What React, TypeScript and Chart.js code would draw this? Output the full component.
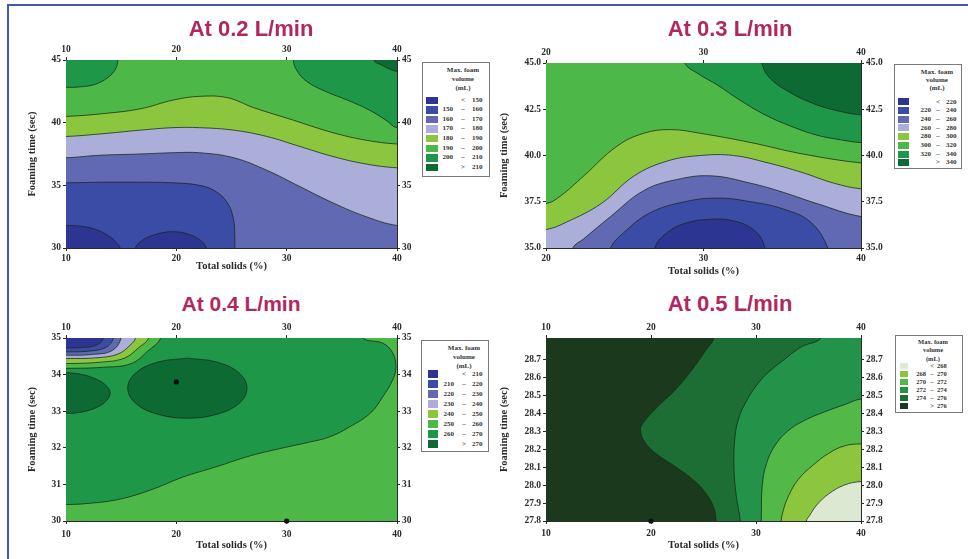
import React, { useEffect, useRef } from "react";
import { Chart, registerables } from "chart.js";

Chart.register(...registerables);

type Pt = [number, number];
type Corner = "tl" | "tr" | "bl" | "br";

// Contour palettes, lowest band first
const BLUE_GREEN = ["#2c3591", "#3b4ca6", "#6169b3", "#aaaed9", "#8cc63f", "#4db848", "#1e9748", "#0e6a33"];
const GREENS_05 = ["#dde8d3", "#8cc63f", "#52b848", "#24934a", "#1c6e35", "#1b3a1d"];

const TITLE_TEXTS = ["At 0.2 L/min", "At 0.3 L/min", "At 0.4 L/min", "At 0.5 L/min"];
const X_TITLE = "Total solids (%)";
const Y_TITLE = "Foaming time (sec)";
const LEGEND_HEAD = ["Max. foam", "volume", "(mL)"];

// ---------- At 0.2 L/min ----------
const P1_X_TICKS = [10, 20, 30, 40];
const P1_Y_TICKS = [30, 35, 40, 45];
const P1_LEGEND = ["< 150", "150 – 160", "160 – 170", "170 – 180", "180 – 190", "190 – 200", "200 – 210", "> 210"];
const P1_C150_LEFT: Pt[] = [[10, 31.8], [11.5, 31.72], [12.8, 31.45], [13.9, 30.95], [14.6, 30.4], [14.9, 30]];
const P1_C150_MID: Pt[] = [[16.3, 30], [16.9, 30.6], [18.0, 31.05], [19.6, 31.3], [21.1, 31.1], [22.2, 30.6], [22.7, 30]];
const P1_C160: Pt[] = [[10, 35.2], [13.1, 35.25], [16.7, 35.25], [19.7, 35.2], [22.1, 35.0], [23.6, 34.5], [24.7, 33.5], [25.2, 32.2], [25.3, 31.0], [25.3, 30]];
const P1_C170: Pt[] = [[10, 37.2], [13.1, 37.4], [16.7, 37.5], [19.7, 37.6], [22.1, 37.6], [25.2, 37.2], [28.2, 36.2], [31.2, 34.9], [34.2, 33.6], [37.2, 32.5], [40, 31.8]];
const P1_C180: Pt[] = [[10, 38.9], [13.1, 39.1], [16.7, 39.4], [19.7, 39.6], [22.1, 39.6], [25.2, 39.4], [28.2, 38.9], [31.2, 38.1], [34.2, 37.3], [37.2, 36.7], [40, 36.4]];
const P1_C190: Pt[] = [[10, 40.5], [13.1, 40.7], [16.7, 41.1], [19.7, 41.8], [22.1, 42.1], [24.6, 42.0], [27.0, 41.2], [30.6, 40.2], [34.2, 39.2], [37.2, 38.6], [40, 38.3]];
const P1_C200_LEFT: Pt[] = [[14.7, 45], [14.5, 44.3], [13.8, 43.6], [12.6, 43.05], [11.2, 42.85], [10, 42.82]];
const P1_C200_RIGHT: Pt[] = [[30.6, 45], [30.9, 44.2], [31.8, 43.3], [33.5, 42.5], [35.5, 41.8], [37.5, 41.0], [39, 40.2], [40, 39.6]];
const P1_C210: Pt[] = [[37.9, 45], [38.6, 44.6], [39.4, 44.25], [40, 44.1]];
const P1_MARKERS: Pt[] = [];

// ---------- At 0.3 L/min ----------
const P2_X_TICKS = [20, 30, 40];
const P2_Y_TICKS = [35, 37.5, 40, 42.5, 45];
const P2_LEGEND = ["< 220", "220 – 240", "240 – 260", "260 – 280", "280 – 300", "300 – 320", "320 – 340", "> 340"];
const P2_C220: Pt[] = [[26.9, 35], [27.5, 35.7], [28.7, 36.3], [30.4, 36.55], [32.0, 36.45], [33.3, 35.9], [33.9, 35]];
const P2_C240: Pt[] = [[24.1, 35], [24.9, 35.8], [26.6, 36.9], [28.8, 37.5], [30.9, 37.7], [33.0, 37.5], [35.1, 37.1], [36.8, 36.4], [37.9, 35]];
const P2_C260: Pt[] = [[21.7, 35], [22.4, 35.5], [24.1, 36.7], [26.2, 38.1], [28.3, 38.7], [30.5, 38.9], [33.0, 38.5], [35.1, 38.0], [37.2, 37.4], [40, 36.7]];
const P2_C280: Pt[] = [[20, 36.0], [21.3, 36.4], [23.5, 37.4], [25.6, 38.9], [27.7, 39.7], [29.8, 40.0], [31.9, 40.0], [34.1, 39.6], [36.2, 39.1], [38.3, 38.5], [40, 38.2]];
const P2_C300: Pt[] = [[20, 37.4], [20.9, 37.8], [22.4, 38.9], [24.5, 40.5], [26.2, 41.2], [27.9, 41.4], [29.8, 41.2], [33.0, 40.7], [36.2, 40.1], [40, 39.6]];
const P2_C320: Pt[] = [[28.8, 45], [29.7, 44.4], [30.9, 43.8], [32.3, 43.0], [33.9, 42.2], [35.5, 41.6], [37.2, 41.1], [38.7, 40.85], [40, 40.7]];
const P2_C340: Pt[] = [[33.7, 45], [34.2, 44.2], [35.3, 43.5], [37.0, 42.8], [38.6, 42.4], [40, 42.2]];
const P2_MARKERS: Pt[] = [];

// ---------- At 0.4 L/min ----------
const P3_X_TICKS = [10, 20, 30, 40];
const P3_Y_TICKS = [30, 31, 32, 33, 34, 35];
const P3_LEGEND = ["< 210", "210 – 220", "220 – 230", "230 – 240", "240 – 250", "250 – 260", "260 – 270", "> 270"];
const P3_C210: Pt[] = [[10, 34.73], [11.5, 34.74], [12.7, 34.8], [13.4, 35]];
const P3_C220: Pt[] = [[10, 34.62], [12.0, 34.64], [13.6, 34.74], [14.3, 35]];
const P3_C230: Pt[] = [[10, 34.53], [12.4, 34.55], [14.2, 34.66], [15.0, 35]];
const P3_C240: Pt[] = [[10, 34.44], [12.8, 34.46], [14.7, 34.56], [15.8, 34.8], [16.3, 35]];
const P3_C250: Pt[] = [[10, 34.3], [13.1, 34.34], [15.3, 34.45], [16.6, 34.74], [17.5, 35]];
const P3_C260_UPPER: Pt[] = [[10, 34.17], [13.4, 34.2], [15.9, 34.3], [17.4, 34.64], [18.6, 35]];
const P3_C260_LOWER: Pt[] = [[36.9, 35], [38.7, 34.86], [39.6, 34.6], [39.9, 34.2], [39.6, 33.85], [38.7, 33.39], [37.6, 32.95], [35.7, 32.57], [33.9, 32.3], [32.0, 32.15], [29.7, 32.0], [26.7, 31.78], [23.6, 31.48], [20.6, 31.2], [17.6, 30.84], [14.6, 30.58], [11.6, 30.47], [10, 30.45]];
const P3_C270_LEFT: Pt[] = [[10, 34.05], [11.5, 34.0], [12.9, 33.85], [13.7, 33.68], [14.0, 33.5], [13.7, 33.3], [12.9, 33.12], [11.5, 32.98], [10, 32.94]];
const P3_C270_MID: Pt[] = [[21.0, 34.45], [23.7, 34.34], [25.7, 34.04], [26.4, 33.63], [25.7, 33.22], [23.7, 32.92], [21.0, 32.81], [18.3, 32.92], [16.3, 33.22], [15.6, 33.63], [16.3, 34.04], [18.3, 34.34]];
const P3_MARKERS: Pt[] = [[20, 33.8], [30, 30]];

// ---------- At 0.5 L/min ----------
const P4_X_TICKS = [10, 20, 30, 40];
const P4_Y_TICKS = [27.8, 27.9, 28.0, 28.1, 28.2, 28.3, 28.4, 28.5, 28.6, 28.7];
const P4_LEGEND = ["< 268", "268 – 270", "270 – 272", "272 – 274", "274 – 276", "> 276"];
const P4_C268: Pt[] = [[40, 28.02], [38.4, 28.0], [36.9, 27.95], [35.8, 27.89], [35.1, 27.83], [34.8, 27.8]];
const P4_C270: Pt[] = [[40, 28.23], [38.5, 28.22], [37.0, 28.18], [35.4, 28.11], [34.0, 28.03], [33.1, 27.94], [32.6, 27.86], [32.4, 27.8]];
const P4_C272: Pt[] = [[40, 28.48], [38.5, 28.45], [36.6, 28.41], [34.6, 28.36], [33.0, 28.3], [31.8, 28.22], [31.0, 28.12], [30.6, 28.0], [30.5, 27.8]];
const P4_C274: Pt[] = [[36.2, 28.82], [34.3, 28.77], [32.7, 28.7], [31.2, 28.63], [30.1, 28.56], [29.1, 28.47], [28.4, 28.38], [28.0, 28.27], [27.9, 28.1], [28.1, 27.95], [28.5, 27.8]];
const P4_C276: Pt[] = [[26.0, 28.82], [25.2, 28.75], [24.0, 28.65], [22.3, 28.53], [20.5, 28.43], [19.3, 28.35], [19.0, 28.31], [19.4, 28.24], [20.6, 28.17], [22.4, 28.1], [24.2, 28.02], [25.4, 27.94], [26.0, 27.87], [26.2, 27.8]];
const P4_MARKERS: Pt[] = [[20, 27.8]];

const INK = "#2a2a2a";
const CONTOUR_LINE = "rgba(22,40,22,0.85)";
const TITLE_COLOR = "#b2275e";
const SERIF = '"Liberation Serif", "Times New Roman", serif';

interface Layer { curves: Pt[][]; corners: Corner[]; color: string }
interface Bounds { xMin: number; xMax: number; yMin: number; yMax: number }
interface LegendSpec {
  left: number; top: number; width: number; height: number;
  headTop: number; headStep: number; rowTop: number; rowStep: number;
  swatchLeft: number; swatchW: number; swatchH: number;
  c1: number; c2: number; c3: number; font: number; headCenter: number;
  labels: string[]; colors: string[];
}
interface PanelSpec {
  title: string; titleX: number; titleY: number; titleSize: number;
  left: number; top: number; width: number; height: number;
  axL: number; axR: number; axT: number; axB: number; xPad: number;
  bounds: Bounds; xTicks: number[]; yTicks: number[]; yDec: number;
  base: string; layers: Layer[]; markers: Pt[]; legend: LegendSpec;
}

// Closes a contour against the outside of the plot so it can be filled as a shape.
function buildPolygon(curves: Pt[][], corners: Corner[], b: Bounds) {
  const dx = (b.xMax - b.xMin) * 0.08;
  const dy = (b.yMax - b.yMin) * 0.08;
  const outward = ([x, y]: Pt): Pt | null => {
    if (x === b.xMin) return [x - dx, y];
    if (x === b.xMax) return [x + dx, y];
    if (y === b.yMin) return [x, y - dy];
    if (y === b.yMax) return [x, y + dy];
    return null;
  };
  const cornerPt: Record<Corner, Pt> = {
    tl: [b.xMin - dx, b.yMax + dy],
    tr: [b.xMax + dx, b.yMax + dy],
    bl: [b.xMin - dx, b.yMin - dy],
    br: [b.xMax + dx, b.yMin - dy],
  };
  const out: Pt[] = [];
  for (const c of curves) {
    const s = outward(c[0]);
    if (s) out.push(s);
    out.push(...c);
    const e = outward(c[c.length - 1]);
    if (e) out.push(e);
  }
  corners.forEach((k) => out.push(cornerPt[k]));
  const first = out[0];
  const last = out[out.length - 1];
  if (first[0] !== last[0] || first[1] !== last[1]) out.push(first);
  return out.map(([x, y]) => ({ x, y }));
}

const B1: Bounds = { xMin: 10, xMax: 40, yMin: 30, yMax: 45 };
const B2: Bounds = { xMin: 20, xMax: 40, yMin: 35, yMax: 45 };
const B3: Bounds = { xMin: 10, xMax: 40, yMin: 30, yMax: 35 };
const B4: Bounds = { xMin: 10, xMax: 40, yMin: 27.8, yMax: 28.82 };

const PANELS: PanelSpec[] = [
  {
    title: TITLE_TEXTS[0], titleX: 251, titleY: 29, titleSize: 22,
    left: 26, top: 40, width: 395, height: 233, axL: 40, axR: 24, axT: 20, axB: 25, xPad: 2,
    bounds: B1, xTicks: P1_X_TICKS, yTicks: P1_Y_TICKS, yDec: 0, base: BLUE_GREEN[5],
    layers: [
      { curves: [P1_C200_LEFT], corners: ["tl"], color: BLUE_GREEN[6] },
      { curves: [P1_C200_RIGHT], corners: ["tr"], color: BLUE_GREEN[6] },
      { curves: [P1_C210], corners: ["tr"], color: BLUE_GREEN[7] },
      { curves: [P1_C190], corners: ["br", "bl"], color: BLUE_GREEN[4] },
      { curves: [P1_C180], corners: ["br", "bl"], color: BLUE_GREEN[3] },
      { curves: [P1_C170], corners: ["br", "bl"], color: BLUE_GREEN[2] },
      { curves: [P1_C160], corners: ["bl"], color: BLUE_GREEN[1] },
      { curves: [P1_C150_LEFT], corners: ["bl"], color: BLUE_GREEN[0] },
      { curves: [P1_C150_MID], corners: [], color: BLUE_GREEN[0] },
    ],
    markers: P1_MARKERS,
    legend: {
      left: 422, top: 62, width: 68, height: 115, headTop: 65, headStep: 8.8, rowTop: 94.5, rowStep: 9.6,
      swatchLeft: 3, swatchW: 12, swatchH: 7.5, c1: 30, c2: 40, c3: 49, font: 7, headCenter: 40,
      labels: P1_LEGEND, colors: BLUE_GREEN,
    },
  },
  {
    title: TITLE_TEXTS[1], titleX: 730, titleY: 29, titleSize: 22,
    left: 498, top: 43, width: 393, height: 235, axL: 48, axR: 30, axT: 20, axB: 30, xPad: 2,
    bounds: B2, xTicks: P2_X_TICKS, yTicks: P2_Y_TICKS, yDec: 1, base: BLUE_GREEN[5],
    layers: [
      { curves: [P2_C320], corners: ["tr"], color: BLUE_GREEN[6] },
      { curves: [P2_C340], corners: ["tr"], color: BLUE_GREEN[7] },
      { curves: [P2_C300], corners: ["br", "bl"], color: BLUE_GREEN[4] },
      { curves: [P2_C280], corners: ["br", "bl"], color: BLUE_GREEN[3] },
      { curves: [P2_C260], corners: ["br"], color: BLUE_GREEN[2] },
      { curves: [P2_C240], corners: [], color: BLUE_GREEN[1] },
      { curves: [P2_C220], corners: [], color: BLUE_GREEN[0] },
    ],
    markers: P2_MARKERS,
    legend: {
      left: 894, top: 64, width: 68, height: 105, headTop: 67, headStep: 8.2, rowTop: 96.5, rowStep: 8.7,
      swatchLeft: 3, swatchW: 11, swatchH: 7, c1: 36, c2: 43, c3: 51, font: 7, headCenter: 42,
      labels: P2_LEGEND, colors: BLUE_GREEN,
    },
  },
  {
    title: TITLE_TEXTS[2], titleX: 241, titleY: 303, titleSize: 21,
    left: 26, top: 318, width: 395, height: 234, axL: 40, axR: 24, axT: 20, axB: 31, xPad: 5,
    bounds: B3, xTicks: P3_X_TICKS, yTicks: P3_Y_TICKS, yDec: 0, base: BLUE_GREEN[5],
    layers: [
      { curves: [P3_C260_UPPER, P3_C260_LOWER], corners: [], color: BLUE_GREEN[6] },
      { curves: [P3_C250], corners: ["tl"], color: BLUE_GREEN[4] },
      { curves: [P3_C240], corners: ["tl"], color: BLUE_GREEN[3] },
      { curves: [P3_C230], corners: ["tl"], color: BLUE_GREEN[2] },
      { curves: [P3_C220], corners: ["tl"], color: BLUE_GREEN[1] },
      { curves: [P3_C210], corners: ["tl"], color: BLUE_GREEN[0] },
      { curves: [P3_C270_LEFT], corners: [], color: BLUE_GREEN[7] },
      { curves: [P3_C270_MID], corners: [], color: BLUE_GREEN[7] },
    ],
    markers: P3_MARKERS,
    legend: {
      left: 421, top: 340, width: 68, height: 112, headTop: 343, headStep: 8.8, rowTop: 368, rowStep: 10,
      swatchLeft: 6, swatchW: 10, swatchH: 8, c1: 32, c2: 42, c3: 50, font: 7, headCenter: 42,
      labels: P3_LEGEND, colors: BLUE_GREEN,
    },
  },
  {
    title: TITLE_TEXTS[3], titleX: 730, titleY: 304, titleSize: 22,
    left: 498, top: 318, width: 393, height: 234, axL: 48, axR: 30, axT: 20, axB: 31, xPad: 4,
    bounds: B4, xTicks: P4_X_TICKS, yTicks: P4_Y_TICKS, yDec: 1, base: GREENS_05[5],
    layers: [
      { curves: [P4_C276], corners: ["br", "tr"], color: GREENS_05[4] },
      { curves: [P4_C274], corners: ["br", "tr"], color: GREENS_05[3] },
      { curves: [P4_C272], corners: ["br"], color: GREENS_05[2] },
      { curves: [P4_C270], corners: ["br"], color: GREENS_05[1] },
      { curves: [P4_C268], corners: ["br"], color: GREENS_05[0] },
    ],
    markers: P4_MARKERS,
    legend: {
      left: 895, top: 335, width: 68, height: 78, headTop: 337, headStep: 8.4, rowTop: 361, rowStep: 8,
      swatchLeft: 4, swatchW: 8, swatchH: 6.5, c1: 30, c2: 36, c3: 41, font: 6.5, headCenter: 37,
      labels: P4_LEGEND, colors: GREENS_05,
    },
  },
];

function axisOptions(pos: "top" | "bottom" | "left" | "right", spec: PanelSpec) {
  const horizontal = pos === "top" || pos === "bottom";
  const b = spec.bounds;
  const ticks = horizontal ? spec.xTicks : spec.yTicks;
  const dec = horizontal ? 0 : spec.yDec;
  const size = pos === "top" ? spec.axT : pos === "bottom" ? spec.axB : pos === "left" ? spec.axL : spec.axR;
  const title = pos === "bottom" ? X_TITLE : pos === "left" ? Y_TITLE : "";
  return {
    type: "linear" as const,
    position: pos,
    min: horizontal ? b.xMin : b.yMin,
    max: horizontal ? b.xMax : b.yMax,
    afterBuildTicks: (a: any) => {
      a.ticks = ticks.map((v) => ({ value: v }));
    },
    afterFit: (s: any) => {
      if (horizontal) s.height = size;
      else s.width = size;
    },
    grid: { display: true, drawOnChartArea: false, drawTicks: true, tickLength: 3, color: INK, lineWidth: 1 },
    border: { display: true, color: INK, width: 1 },
    ticks: {
      font: { family: SERIF, size: 9.5, weight: "bold" as const },
      color: INK,
      padding: pos === "bottom" ? spec.xPad : 2,
      maxRotation: 0,
      autoSkip: false,
      callback: (v: any) => Number(v).toFixed(dec),
    },
    title: title
      ? { display: true, text: title, font: { family: SERIF, size: 10.5, weight: "bold" as const }, color: INK, padding: 0 }
      : { display: false },
  };
}

function ContourPanel({ spec }: { spec: PanelSpec }) {
  const ref = useRef<HTMLCanvasElement>(null);

  useEffect(() => {
    if (!ref.current) return;
    const b = spec.bounds;
    const datasets: any[] = [];
    datasets.push({
      data: buildPolygon([], ["tl", "tr", "br", "bl"], b),
      fill: "shape",
      backgroundColor: spec.base,
      borderWidth: 0,
      borderColor: "rgba(0,0,0,0)",
      pointRadius: 0,
      tension: 0,
    });
    spec.layers.forEach((layer) => {
      datasets.push({
        data: buildPolygon(layer.curves, layer.corners, b),
        fill: "shape",
        backgroundColor: layer.color,
        borderColor: CONTOUR_LINE,
        borderWidth: 0.9,
        pointRadius: 0,
        tension: 0.4,
      });
    });
    datasets.forEach((d, i) => (d.order = -i));
    datasets.push({
      data: spec.markers.map(([x, y]) => ({ x, y })),
      showLine: false,
      fill: false,
      pointRadius: 2.6,
      pointBackgroundColor: "#111",
      pointBorderWidth: 0,
      clip: false,
      order: -1000,
    });

    const chart = new Chart(ref.current, {
      type: "line",
      data: { datasets },
      options: {
        responsive: false,
        animation: false,
        devicePixelRatio: 1,
        events: [],
        layout: { padding: 0 },
        elements: { line: { capBezierPoints: false } },
        plugins: { legend: { display: false }, tooltip: { enabled: false }, title: { display: false } },
        scales: {
          x: axisOptions("bottom", spec),
          xTop: axisOptions("top", spec),
          y: axisOptions("left", spec),
          yRight: axisOptions("right", spec),
        } as any,
      },
    });
    return () => chart.destroy();
  }, [spec]);

  const L = spec.legend;
  return (
    <>
      <canvas
        ref={ref}
        width={spec.width}
        height={spec.height}
        style={{ position: "absolute", left: spec.left, top: spec.top, width: spec.width, height: spec.height }}
      />
      <div
        style={{
          position: "absolute",
          left: spec.titleX - 110,
          width: 220,
          top: spec.titleY - spec.titleSize * 0.49,
          textAlign: "center",
          fontFamily: '"Liberation Sans", Arial, sans-serif',
          fontWeight: "bold",
          fontSize: spec.titleSize,
          lineHeight: `${spec.titleSize}px`,
          color: TITLE_COLOR,
          whiteSpace: "nowrap",
        }}
      >
        {spec.title}
      </div>
      <div
        style={{
          position: "absolute",
          left: L.left,
          top: L.top,
          width: L.width,
          height: L.height,
          boxSizing: "border-box",
          border: "1px solid #7a7a7a",
          background: "#fff",
          fontFamily: SERIF,
          fontWeight: "bold",
          fontSize: L.font,
          color: "#333",
          zIndex: 2,
        }}
      >
        {LEGEND_HEAD.map((t, i) => (
          <div
            key={t}
            style={{
              position: "absolute",
              left: L.headCenter - 30,
              width: 60,
              top: L.headTop - L.top + i * L.headStep,
              height: L.headStep,
              lineHeight: `${L.headStep}px`,
              textAlign: "center",
              whiteSpace: "nowrap",
            }}
          >
            {t}
          </div>
        ))}
        {L.labels.map((lab, i) => {
          const top = L.rowTop - L.top + i * L.rowStep;
          let a = "";
          let s = "";
          let c = "";
          if (lab.startsWith("<") || lab.startsWith(">")) {
            s = lab[0];
            c = lab.slice(1).trim();
          } else {
            const parts = lab.split("–").map((p) => p.trim());
            a = parts[0];
            s = "–";
            c = parts[1];
          }
          const cell = { position: "absolute" as const, top, height: L.rowStep, lineHeight: `${L.rowStep}px`, whiteSpace: "nowrap" as const };
          return (
            <React.Fragment key={lab}>
              <div
                style={{
                  position: "absolute",
                  left: L.swatchLeft,
                  top: top + (L.rowStep - L.swatchH) / 2,
                  width: L.swatchW,
                  height: L.swatchH,
                  background: L.colors[i],
                }}
              />
              <div style={{ ...cell, left: L.c1 - 20, width: 20, textAlign: "right" }}>{a}</div>
              <div style={{ ...cell, left: L.c2 - 5, width: 10, textAlign: "center" }}>{s}</div>
              <div style={{ ...cell, left: L.c3, width: 20, textAlign: "left" }}>{c}</div>
            </React.Fragment>
          );
        })}
      </div>
    </>
  );
}

export default function App() {
  return (
    <div
      style={{
        position: "absolute",
        left: 0,
        top: 0,
        width: 968,
        height: 559,
        background: "#ffffff",
        overflow: "hidden",
      }}
    >
      <div
        style={{
          position: "absolute",
          left: 7,
          top: 4,
          width: 980,
          height: 580,
          borderTop: "2px solid #3d5cb0",
          borderLeft: "2px solid #3d5cb0",
        }}
      />
      {PANELS.map((p) => (
        <ContourPanel key={p.title} spec={p} />
      ))}
    </div>
  );
}
